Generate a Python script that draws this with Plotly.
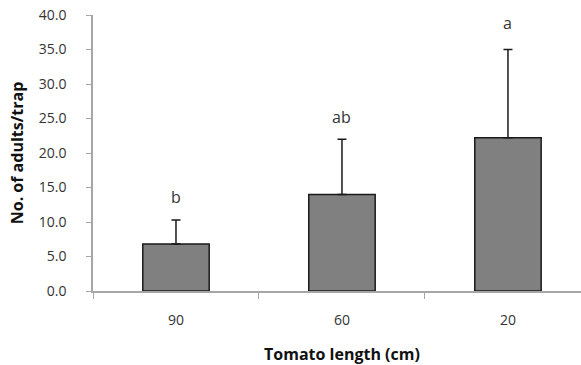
import plotly.graph_objects as go

categories = ["90", "60", "20"]
means = [6.8, 14.0, 22.2]
errors = [3.5, 8.0, 12.8]
letters = ["b", "ab", "a"]
letter_y = [13.6, 25.2, 38.8]
y_ticks = [0, 5, 10, 15, 20, 25, 30, 35, 40]

fig = go.Figure()
fig.add_trace(go.Bar(
    x=categories, y=means, width=0.4,
    marker=dict(color="#808080", line=dict(color="#1a1a1a", width=1.5)),
    error_y=dict(type="data", array=errors, symmetric=False, arrayminus=[0, 0, 0],
                 color="#1a1a1a", thickness=1.5, width=4.5),
))

for i, (l, ly) in enumerate(zip(letters, letter_y)):
    fig.add_annotation(x=i, y=ly, xref="x", yref="y", text=l, showarrow=False,
                       xanchor="center", yanchor="middle",
                       font=dict(family="Open Sans, Noto Sans, sans-serif", size=16, color="#333333"))

fig.add_annotation(x=1, y=-0.228, xref="x", yref="paper", text="<b>Tomato length (cm)</b>",
                   showarrow=False, xanchor="center", yanchor="middle",
                   font=dict(family="Open Sans, Noto Sans, sans-serif", size=16, color="#111111"))

fig.update_layout(
    width=581, height=365,
    margin=dict(l=93, r=0, t=15, b=74),
    plot_bgcolor="white", paper_bgcolor="white",
    showlegend=False,
    bargap=0.6,
)
fig.update_xaxes(
    type="category", range=[-0.5, 2.44], automargin=False,
    showline=True, linecolor="#a6a6a6", linewidth=1.5,
    ticks="outside", tickson="boundaries", ticklen=6, tickcolor="#a6a6a6",
    tickfont=dict(family="Open Sans, Noto Sans, sans-serif", size=14, color="#333333"),
    ticklabelstandoff=15, showgrid=False,
)
fig.update_yaxes(
    range=[0, 40], tickvals=y_ticks, ticktext=[f"{v:.1f}" for v in y_ticks], automargin=False,
    showline=True, linecolor="#a6a6a6", linewidth=1.5,
    ticks="outside", ticklen=5, tickcolor="#a6a6a6",
    tickfont=dict(family="Open Sans, Noto Sans, sans-serif", size=14, color="#333333"),
    ticklabelstandoff=17, showgrid=False, zeroline=False,
    title=dict(text="<b>No. of adults/trap</b>", standoff=11,
               font=dict(family="Open Sans, Noto Sans, sans-serif", size=16, color="#111111")),
)

fig.write_html("out.html", config={"displayModeBar": False},
               post_script="document.body.style.margin='0';document.body.style.overflow='hidden';")
